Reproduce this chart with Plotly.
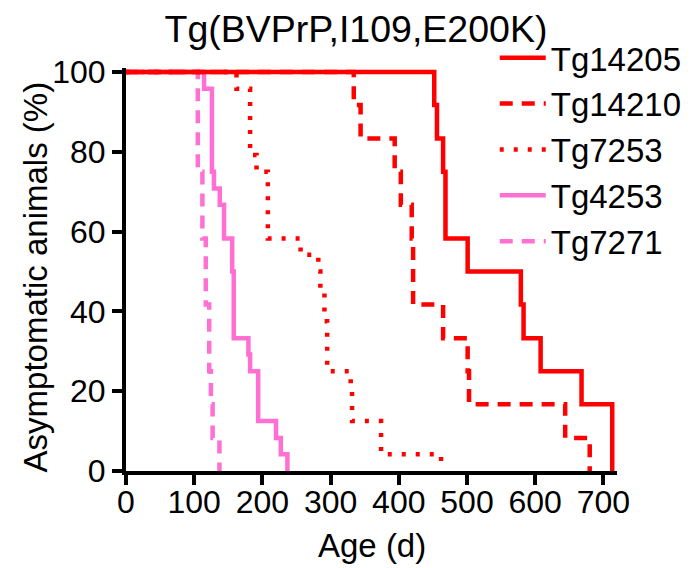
import plotly.graph_objects as go

# Survival data (age in days at each event, % asymptomatic after the event)
tg14205_age = [0, 452, 456, 465, 468.5, 501, 579, 583, 608, 668, 713]
tg14205_pct = [100, 91.7, 83.3, 75.0, 58.3, 50.0, 41.7, 33.3, 25.0, 16.7, 0]

tg14210_age = [0, 334, 344, 394, 403, 419, 421, 465, 501, 503, 644, 680]
tg14210_pct = [100, 91.7, 83.3, 75.0, 66.7, 58.3, 41.7, 33.3, 25.0, 16.7, 8.3, 0]

tg7253_age = [0, 162, 182, 191.4, 208, 256, 282, 285, 291, 295, 329.5, 331.5, 374, 462]
tg7253_pct = [100, 95.8, 79.2, 75.0, 58.3, 54.2, 50.0, 45.8, 37.5, 25.0, 20.8, 12.5, 4.2, 0]

tg4253_age = [0, 114.5, 126, 129, 137.5, 143.8, 155.7, 158, 179.5, 182, 193.8, 220, 227, 236.7]
tg4253_pct = [100, 95.8, 75.0, 70.8, 66.7, 58.3, 50.0, 33.3, 29.2, 25.0, 12.5, 8.3, 4.2, 0]

tg7271_age = [0, 105.3, 112, 117, 122, 124.5, 127, 137]
tg7271_pct = [100, 75.0, 58.3, 41.7, 25.0, 16.7, 8.3, 0]

series_names = ["Tg7271", "Tg4253", "Tg7253", "Tg14210", "Tg14205"]
series_x = [tg7271_age, tg4253_age, tg7253_age, tg14210_age, tg14205_age]
series_y = [tg7271_pct, tg4253_pct, tg7253_pct, tg14210_pct, tg14205_pct]

RED = "#FF0000"
PINK = "#FF70D2"
styles = {
    "Tg14205": dict(color=RED, dash="solid"),
    "Tg14210": dict(color=RED, dash="13px,9px"),
    "Tg7253": dict(color=RED, dash="4px,10px"),
    "Tg4253": dict(color=PINK, dash="solid"),
    "Tg7271": dict(color=PINK, dash="13px,9px"),
}

FONT = "Liberation Sans, Arial, sans-serif"

fig = go.Figure()
for name, xs, ys in zip(series_names, series_x, series_y):
    st = styles[name]
    fig.add_trace(go.Scatter(
        x=xs, y=ys, name=name, mode="lines",
        line=dict(color=st["color"], width=4.5, dash=st["dash"], shape="hv"),
    ))

fig.update_layout(
    width=699, height=568,
    margin=dict(l=126, r=69, t=68, b=97),
    paper_bgcolor="white", plot_bgcolor="white",
    font=dict(family=FONT, color="black"),
    title=dict(text="Tg(BVPrP,I109,E200K)", font=dict(size=37.5, family=FONT, color="black"),
               x=356 / 699, xref="container", xanchor="center",
               y=1 - 29 / 568, yref="container", yanchor="middle"),
    showlegend=True,
    legend=dict(traceorder="reversed", font=dict(size=33, family=FONT, color="black"),
                x=0.751, xanchor="left", y=1.095, yanchor="top",
                bgcolor="rgba(0,0,0,0)", itemwidth=46, tracegroupgap=0),
    annotations=[
        dict(text="Age (d)", xref="paper", yref="paper", x=0.5, y=-0.184,
             xanchor="center", yanchor="middle", showarrow=False,
             font=dict(size=33, family=FONT, color="black")),
        dict(text="Asymptomatic animals (%)", xref="paper", yref="paper",
             x=(33 - 126) / 504, y=(471 - 277) / 403, textangle=-90,
             xanchor="center", yanchor="middle", showarrow=False,
             font=dict(size=33, family=FONT, color="black")),
    ],
)
fig.update_xaxes(
    range=[0, 720], showline=True, linewidth=4, linecolor="black",
    ticks="outside", ticklen=10, tickwidth=4, tickcolor="black",
    tickmode="linear", tick0=0, dtick=100, showgrid=False, zeroline=False,
    tickfont=dict(size=32, family=FONT, color="black"), ticklabelstandoff=-10,
)
fig.update_yaxes(
    range=[0, 101], showline=True, linewidth=4, linecolor="black",
    ticks="outside", ticklen=10, tickwidth=4, tickcolor="black",
    tickmode="linear", tick0=0, dtick=20, showgrid=False, zeroline=False,
    tickfont=dict(size=32, family=FONT, color="black"),
)

fig.write_html(
    "out.html",
    config={"displayModeBar": False},
    post_script="document.body.style.margin='0';document.body.style.padding='0';"
                "document.documentElement.style.overflow='hidden';",
)
